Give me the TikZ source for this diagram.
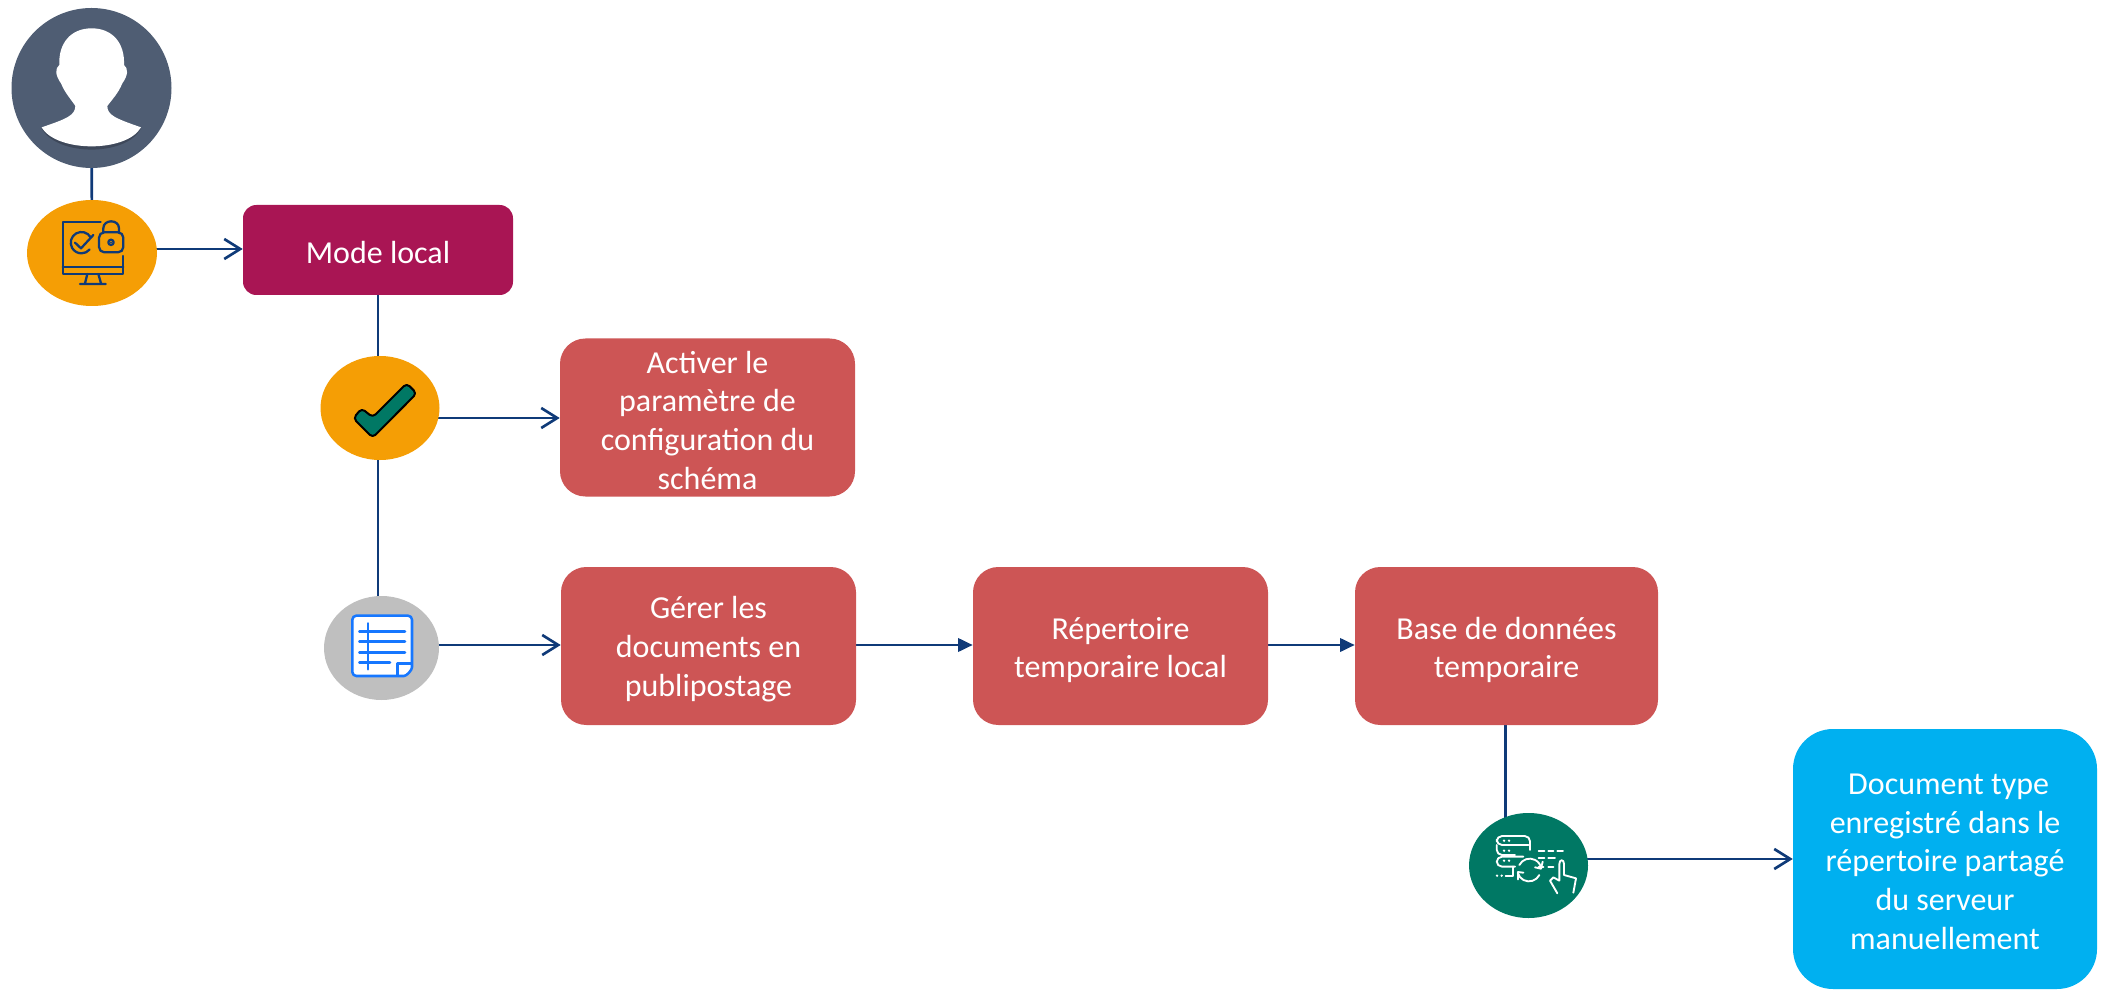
\documentclass[tikz,border=0pt]{standalone}
\usepackage{fontspec}
\setmainfont{Carlito}
\usetikzlibrary{arrows.meta,shapes.geometric,backgrounds,calc}
\definecolor{navy}{HTML}{0F3A78}
\definecolor{redbox}{HTML}{CD5555}
\definecolor{magbox}{HTML}{A91554}
\definecolor{orangeell}{HTML}{F59E05}
\definecolor{tealell}{HTML}{007864}
\definecolor{bluebox}{HTML}{00B0F0}
\definecolor{greyell}{HTML}{BFBFBF}
\definecolor{persona}{HTML}{4F5D73}
\definecolor{docblue}{HTML}{1677FF}
\newcommand{\toproom}[1]{\rule{0pt}{#1pt}}
\tikzset{
  x=0.75pt,y=-0.75pt,
  box/.style={rounded corners=19pt,draw=none,text=white,align=center,inner sep=0pt,
    font=\fontsize{24}{29}\selectfont},
  redrect/.style={box,fill=redbox,minimum width=221.25pt,minimum height=118.5pt},
  oval/.style={ellipse,draw=none,inner sep=0pt},
  link/.style={draw=navy,line width=2pt},
  openarrow/.style={link,-{Straight Barb[length=12pt,width=15pt,line width=2pt]}},
  fullarrow/.style={link,-{Triangle[length=11pt,width=10pt]}},
  iconnavy/.style={draw=navy,line width=1.7pt,line cap=round,line join=round},
  iconwhite/.style={draw=white,line width=1.4pt,line cap=round,line join=round},
  icondoc/.style={draw=docblue,line width=1.9pt,line cap=round,line join=round}
}
\begin{document}
\begin{tikzpicture}
\useasboundingbox (0,0) rectangle (2101,994);
% nodes
\node[oval,fill=persona,minimum width=120pt,minimum height=120pt] (person) at (91.5,88) {};
\node[oval,fill=orangeell,minimum width=97.5pt,minimum height=79.5pt] (ellA) at (92,253) {};
\node[box,fill=magbox,rounded corners=10pt,minimum width=202.5pt,minimum height=67.5pt] (mode) at (378,250) {\toproom{20.5}Mode local};
\node[oval,fill=orangeell,minimum width=89.25pt,minimum height=78pt] (ellB) at (380,408) {};
\node[redrect] (activer) at (707.5,417.5) {\toproom{20.5}Activer le\\paramètre de\\configuration du\\schéma};
\node[oval,fill=greyell,minimum width=86.25pt,minimum height=78pt] (ellC) at (381.5,648) {};
\node[redrect] (gerer) at (708.5,646) {\toproom{21.5}Gérer les\\documents en\\publipostage};
\node[redrect] (rep) at (1120.5,646) {\toproom{22.5}Répertoire\\temporaire local};
\node[redrect,minimum width=227.25pt] (base) at (1506.5,646) {\toproom{22.5}Base de données\\temporaire};
\node[oval,fill=tealell,minimum width=89.25pt,minimum height=78.75pt] (ellD) at (1528.5,865.5) {};
\node[box,fill=bluebox,rounded corners=30pt,minimum width=228pt,minimum height=195pt] (doc) at (1945,859) {\toproom{19.5}\ Document type\\enregistré dans le\\répertoire partagé\\du serveur\\manuellement};
% connectors
\begin{scope}[on background layer]
\coordinate (vB) at (378,300);
\coordinate (vD) at (1505.7,730);
\draw[link] (person.center) -- (ellA.center);
\draw[link] (vB |- mode.south) -- (vB |- ellB.center);
\draw[link] (vB |- ellB.center) -- (vB |- ellC.center);
\draw[link] (vD |- base.south) -- (vD |- ellD.center);
\coordinate (hA) at (200,249);
\coordinate (hB) at (500,418);
\coordinate (hC) at (500,645);
\coordinate (hD) at (1650,859);
\draw[openarrow] (ellA.center |- hA) -- (mode.west |- hA);
\draw[openarrow] (ellB.center |- hB) -- (activer.west |- hB);
\draw[openarrow] (ellC.center |- hC) -- (gerer.west |- hC);
\draw[fullarrow] (gerer.east |- hC) -- (rep.west |- hC);
\draw[fullarrow] (rep.east |- hC) -- (base.west |- hC);
\draw[openarrow] (ellD.center |- hD) -- (doc.west |- hD);
\end{scope}
% person silhouette
\begin{scope}[x=0.25pt,y=-0.25pt]
\fill[black!22!persona] (125,385) .. controls (170,470) and (380,470) .. (423,385) -- cycle;
\fill[white] (275,85) .. controls (212,85) and (175,130) .. (178,195)
  .. controls (165,205) and (165,225) .. (183,250)
  .. controls (195,280) and (215,300) .. (226,318)
  .. controls (225,345) and (205,355) .. (125,382)
  .. controls (170,458) and (380,458) .. (423,382)
  .. controls (345,355) and (322,345) .. (322,318)
  .. controls (335,300) and (355,280) .. (367,250)
  .. controls (385,225) and (385,205) .. (372,195)
  .. controls (375,130) and (338,85) .. (275,85) -- cycle;
% monitor icon
\draw[iconnavy] (302,665) -- (188,665) -- (188,822) -- (370,822) -- (370,768);
\draw[iconnavy] (188,800) -- (370,800);
\draw[iconnavy] (262,822) -- (255,850) (295,822) -- (303,850) (240,852) -- (317,852);
\draw[iconnavy] (272,712) arc[start angle=-30,end angle=-320,radius=32];
\draw[iconnavy] (225,728) -- (243,745) -- (280,705);
\draw[iconnavy,rounded corners=4pt] (297,697) rectangle (370,757);
\draw[iconnavy] (310,697) -- (310,685) .. controls (310,657) and (357,657) .. (357,685) -- (357,697);
\draw[iconnavy] (333,727) circle[radius=8];
\fill[navy] (333,727) circle[radius=3];
\end{scope}
% check icon
\begin{scope}[shift={(300,340)},x=0.25pt,y=-0.25pt]
\draw[fill=tealell,draw=black,line width=1.5pt,rounded corners=3pt,line join=round]
  (160,235) -- (185,205) -- (218,232) -- (320,130) -- (350,160) -- (218,293) -- cycle;
% document icon
\draw[icondoc,fill=white,rounded corners=3pt] (157,827) -- (336,827) -- (336,970) .. controls (336,990) and (320,1008) .. (300,1008) -- (157,1008) -- cycle;
\draw[icondoc] (178,875) -- (315,875) (178,905) -- (315,905) (178,937) -- (315,937) (178,968) -- (270,968);
\draw[icondoc] (204,850) -- (204,988);
\draw[icondoc] (293,1005) -- (293,970) -- (333,970);
\end{scope}
% server / sync / hand icon
\begin{scope}[shift={(1440,790)},x=0.25pt,y=-0.25pt]
\draw[iconwhite,rounded corners=4pt] (270,165) -- (270,138) -- (170,138) -- (170,165) -- (265,165);
\draw[iconwhite,rounded corners=4pt] (270,180) -- (270,165) (225,195) -- (170,195) -- (170,165);
\draw[iconwhite,rounded corners=4pt] (250,200) -- (170,200) -- (170,230) -- (225,230);
\draw[iconwhite] (218,230) -- (218,257) -- (197,257);
\foreach \yy in {152,182,212}{\fill[white] (192,\yy) circle[radius=4] (207,\yy) circle[radius=4];}
\fill[white] (171,257) circle[radius=4] (185,257) circle[radius=4];
\draw[iconwhite] (238,225) arc[start angle=207,end angle=350,radius=35];
\draw[iconwhite] (298,255) arc[start angle=27,end angle=165,radius=35];
\draw[iconwhite] (285,232) -- (303,236) -- (308,215);
\draw[iconwhite] (250,248) -- (234,246) -- (234,268);
\draw[iconwhite] (296,182) -- (313,182) (325,182) -- (340,182) (352,182) -- (369,182);
\draw[iconwhite] (296,205) -- (313,205) (325,205) -- (345,205) (296,230) -- (310,230) (325,230) -- (340,230);
\draw[iconwhite] (352,310) -- (330,272) -- (340,262) -- (358,272) -- (358,222) .. controls (358,207) and (372,207) .. (372,222) -- (372,255) -- (408,265) -- (400,308);
\end{scope}
\end{tikzpicture}
\end{document}
